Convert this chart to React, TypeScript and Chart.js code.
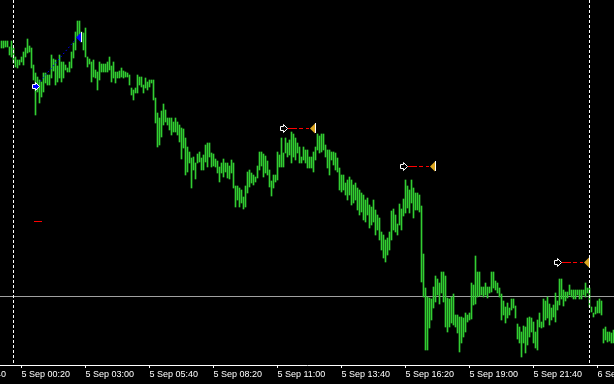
import React, { useEffect, useRef } from "react";
import { Chart, registerables } from "chart.js";

Chart.register(...registerables);

// M5 bars, first bar = 4 Sep 23:30 (price in points)
const highs: number[] = [
  359, 359, 359, 359, 353, 359, 352, 343, 340, 340,
  343, 348, 352, 361, 354, 352, 335, 327, 323, 320,
  318, 327, 327, 325, 325, 345, 341, 340, 334, 345,
  338, 338, 335, 332, 338, 348, 357, 368, 379, 379,
  368, 367, 372, 343, 341, 338, 340, 330, 328, 338,
  336, 336, 336, 338, 343, 334, 338, 328, 328, 329,
  332, 329, 328, 327, 325, 312, 310, 312, 325, 323,
  323, 315, 322, 318, 320, 320, 320, 302, 287, 282,
  289, 296, 290, 282, 282, 282, 278, 282, 278, 275,
  272, 271, 262, 253, 248, 242, 243, 237, 246, 248,
  242, 245, 255, 257, 257, 247, 246, 241, 239, 233,
  237, 241, 237, 237, 234, 240, 237, 214, 214, 212,
  210, 203, 214, 228, 230, 227, 225, 223, 234, 248,
  248, 246, 244, 239, 230, 219, 225, 225, 248, 245,
  262, 247, 262, 257, 260, 268, 266, 262, 257, 253,
  243, 253, 250, 250, 243, 243, 248, 253, 266, 264,
  266, 266, 255, 250, 250, 248, 248, 247, 242, 232,
  225, 225, 217, 220, 223, 220, 215, 217, 212, 210,
  207, 205, 200, 202, 195, 193, 200, 190, 185, 182,
  168, 165, 160, 162, 168, 189, 191, 185, 176, 196,
  191, 201, 220, 214, 210, 220, 212, 207, 207, 205,
  194, 146, 112, 103, 102, 101, 113, 124, 121, 117,
  128, 128, 124, 102, 101, 103, 106, 85, 85, 83,
  83, 82, 87, 85, 87, 117, 115, 144, 128, 128,
  113, 113, 117, 113, 113, 128, 128, 119, 117, 112,
  106, 99, 93, 97, 92, 101, 101, 94, 76, 73,
  68, 74, 73, 82, 83, 82, 78, 68, 80, 87,
  78, 101, 99, 103, 96, 92, 95, 107, 99, 121,
  121, 110, 108, 108, 115, 110, 110, 110, 110, 110,
  110, 110, 117, 112, 112, 93, 87, 93, 99, 101,
  99, 71, 73, 68, 68, 67, 70,
];

const lows: number[] = [
  352, 352, 353, 353, 345, 343, 337, 333, 332, 335,
  338, 335, 343, 347, 348, 332, 320, 285, 308, 297,
  303, 308, 317, 315, 315, 322, 329, 315, 318, 322,
  318, 322, 330, 328, 328, 332, 342, 350, 363, 365,
  358, 350, 343, 333, 336, 318, 323, 322, 310, 320,
  328, 328, 328, 328, 330, 318, 322, 317, 322, 322,
  323, 322, 323, 323, 315, 305, 300, 307, 307, 315,
  313, 307, 312, 310, 313, 317, 300, 277, 253, 255,
  263, 275, 278, 275, 270, 265, 268, 268, 265, 258,
  241, 252, 225, 228, 237, 212, 230, 221, 237, 238,
  230, 230, 238, 233, 243, 233, 234, 233, 227, 218,
  227, 223, 228, 222, 221, 227, 212, 193, 200, 193,
  197, 191, 193, 207, 213, 217, 215, 218, 222, 230,
  234, 223, 227, 225, 213, 204, 212, 218, 220, 233,
  233, 233, 247, 243, 245, 237, 243, 240, 247, 237,
  237, 240, 237, 232, 232, 232, 228, 240, 250, 247,
  248, 250, 243, 232, 225, 240, 235, 230, 228, 210,
  208, 210, 205, 200, 205, 195, 197, 200, 190, 185,
  188, 180, 178, 185, 172, 175, 178, 165, 170, 160,
  150, 142, 138, 145, 150, 160, 170, 168, 165, 175,
  170, 184, 187, 192, 187, 197, 182, 190, 190, 188,
  118, 103, 50, 50, 72, 80, 92, 98, 105, 96,
  107, 98, 73, 68, 73, 77, 75, 73, 67, 48,
  57, 63, 68, 78, 80, 81, 95, 96, 103, 104,
  105, 103, 105, 102, 107, 108, 112, 110, 107, 103,
  80, 85, 77, 82, 85, 90, 92, 82, 61, 57,
  43, 57, 47, 55, 63, 68, 57, 52, 50, 73,
  72, 73, 80, 82, 75, 80, 83, 78, 90, 95,
  101, 94, 99, 102, 105, 103, 101, 101, 105, 101,
  101, 105, 103, 107, 93, 88, 83, 86, 87, 87,
  85, 57, 60, 58, 59, 57, 57,
];

const tickBars: number[] = [-22, 10, 42, 74, 106, 138, 170, 202, 234, 266, 298];
const tickLabels: string[] = [
  "4 Sep 21:40",
  "5 Sep 00:20",
  "5 Sep 03:00",
  "5 Sep 05:40",
  "5 Sep 08:20",
  "5 Sep 11:00",
  "5 Sep 13:40",
  "5 Sep 16:20",
  "5 Sep 19:00",
  "5 Sep 21:40",
  "6 Sep 00:20",
];
const daySeparatorBars: number[] = [6, 294];
const priceLine = 103.5;

const buyTrade = { openBar: 19, openPrice: 313.5, closeBar: 37.25, closePrice: 362.5, lineFromPrice: 318.5, lineToPrice: 360.5 };
const sellTrades = [
  { openBar: 143, openPrice: 271.5, closeBar: 154.25, closePrice: 271.5 },
  { openBar: 203, openPrice: 233.5, closeBar: 214.25, closePrice: 233.5 },
  { openBar: 280, openPrice: 137.5, closeBar: 291.25, closePrice: 137.5 },
];
const stopMark = { fromBar: 16.25, toBar: 20.25, price: 178.5 };

const BAR_COLOR = "#32cd32";

function drawEntryArrow(ctx: CanvasRenderingContext2D, tx: number, ty: number, fill: string) {
  ctx.beginPath();
  ctx.moveTo(tx, ty);
  ctx.lineTo(tx - 4, ty - 4);
  ctx.lineTo(tx - 4, ty - 2);
  ctx.lineTo(tx - 7, ty - 2);
  ctx.lineTo(tx - 7, ty + 2);
  ctx.lineTo(tx - 4, ty + 2);
  ctx.lineTo(tx - 4, ty + 4);
  ctx.closePath();
  ctx.fillStyle = fill;
  ctx.fill();
  ctx.strokeStyle = "#ffffff";
  ctx.lineWidth = 1;
  ctx.setLineDash([]);
  ctx.stroke();
}

function drawExitTriangle(ctx: CanvasRenderingContext2D, tx: number, ty: number, fill: string) {
  ctx.beginPath();
  ctx.moveTo(tx, ty);
  ctx.lineTo(tx + 5, ty - 5);
  ctx.lineTo(tx + 5, ty + 5);
  ctx.closePath();
  ctx.fillStyle = fill;
  ctx.fill();
  ctx.fillStyle = "#ffffff";
  ctx.fillRect(Math.round(tx + 5), Math.round(ty - 5.5), 1, 10);
}

const overlayPlugin = {
  id: "mtOverlay",
  beforeDraw(chart: any) {
    const { ctx, width, height } = chart;
    ctx.save();
    ctx.fillStyle = "#000000";
    ctx.fillRect(0, 0, width, height);
    ctx.restore();
  },
  beforeDatasetsDraw(chart: any) {
    const { ctx, chartArea } = chart;
    const y = chart.scales.y;
    ctx.save();
    const py = Math.floor(y.getPixelForValue(priceLine));
    ctx.fillStyle = "#a0a0a0";
    ctx.fillRect(chartArea.left, py, chartArea.right - chartArea.left, 1);
    ctx.restore();
  },
  afterDatasetsDraw(chart: any) {
    const { ctx, chartArea } = chart;
    const x = chart.scales.x;
    const y = chart.scales.y;
    ctx.save();
    // day separators
    ctx.fillStyle = "#ffffff";
    daySeparatorBars.forEach((b) => {
      const px = Math.floor(x.getPixelForValue(b));
      for (let yy = chartArea.top; yy < chartArea.bottom; yy += 5) {
        ctx.fillRect(px, yy, 1, Math.min(3, chartArea.bottom - yy));
      }
    });
    // stop mark
    ctx.fillStyle = "#ff0000";
    const sx1 = x.getPixelForValue(stopMark.fromBar);
    const sx2 = x.getPixelForValue(stopMark.toBar);
    ctx.fillRect(Math.round(sx1), Math.floor(y.getPixelForValue(stopMark.price)), Math.round(sx2 - sx1), 1);

    // buy trade
    {
      const ox = x.getPixelForValue(buyTrade.openBar);
      const cx = x.getPixelForValue(buyTrade.closeBar);
      ctx.beginPath();
      ctx.moveTo(ox + 0.5, y.getPixelForValue(buyTrade.lineFromPrice));
      ctx.lineTo(cx - 0.5, y.getPixelForValue(buyTrade.lineToPrice));
      ctx.strokeStyle = "#0000ff";
      ctx.lineWidth = 1;
      ctx.setLineDash([1.5, 2.5]);
      ctx.stroke();
      ctx.setLineDash([]);
      drawEntryArrow(ctx, ox, y.getPixelForValue(buyTrade.openPrice), "#0000ff");
      drawExitTriangle(ctx, cx, y.getPixelForValue(buyTrade.closePrice), "#0000ff");
    }
    // sell trades
    sellTrades.forEach((t) => {
      const ox = x.getPixelForValue(t.openBar);
      const cx = x.getPixelForValue(t.closeBar);
      const oy = y.getPixelForValue(t.openPrice);
      const cy = y.getPixelForValue(t.closePrice);
      ctx.beginPath();
      ctx.moveTo(ox + 0.5, oy);
      ctx.lineTo(cx, cy);
      ctx.strokeStyle = "#ff0000";
      ctx.lineWidth = 1;
      ctx.setLineDash([9, 2, 4, 3, 3, 60]);
      ctx.stroke();
      ctx.setLineDash([]);
      drawEntryArrow(ctx, ox, oy, "#000000");
      drawExitTriangle(ctx, cx, cy, "#daa520");
    });
    ctx.restore();
  },
};

export default function App() {
  const canvasRef = useRef<HTMLCanvasElement | null>(null);

  useEffect(() => {
    document.body.style.margin = "0";
    document.body.style.background = "#000";
    const canvas = canvasRef.current;
    if (!canvas) return;
    const chart = new Chart(canvas, {
      type: "bar",
      data: {
        datasets: [
          {
            data: highs.map((h, i) => ({ x: i, y: [lows[i], h] })) as any,
            backgroundColor: BAR_COLOR,
            borderWidth: 0,
            barThickness: 1,
            grouped: false,
          } as any,
        ],
      },
      options: {
        responsive: false,
        animation: false,
        devicePixelRatio: 1,
        layout: { padding: 0, autoPadding: false } as any,
        plugins: {
          legend: { display: false },
          tooltip: { enabled: false },
          title: { display: false },
        },
        events: [],
        scales: {
          x: {
            type: "linear",
            min: -0.75,
            max: 306.25,
            offset: false,
            afterBuildTicks: (scale: any) => {
              scale.ticks = tickBars.map((v) => ({ value: v }));
            },
            afterFit: (scale: any) => {
              scale.height = 19;
              scale.paddingLeft = 0;
              scale.paddingRight = 0;
              scale.paddingTop = 0;
              scale.paddingBottom = 0;
            },
            ticks: {
              autoSkip: false,
              maxRotation: 0,
              minRotation: 0,
              align: "start",
              color: "#ffffff",
              padding: 1,
              font: { family: "'Liberation Sans', Arial, sans-serif", size: 9 },
              callback: (_v: any, i: number) => tickLabels[i],
            },
            grid: {
              display: true,
              offset: false,
              drawOnChartArea: false,
              drawTicks: true,
              tickLength: 3,
              color: "#ffffff",
              lineWidth: 1,
            },
            border: { display: true, color: "#ffffff", width: 1 },
          } as any,
          y: {
            type: "linear",
            display: false,
            min: 35,
            max: 400,
          },
        },
      },
      plugins: [overlayPlugin as any],
    });
    return () => {
      chart.destroy();
    };
  }, []);

  return (
    <div style={{ width: 614, height: 384, background: "#000" }}>
      <canvas ref={canvasRef} width={614} height={384} style={{ display: "block" }} />
    </div>
  );
}
